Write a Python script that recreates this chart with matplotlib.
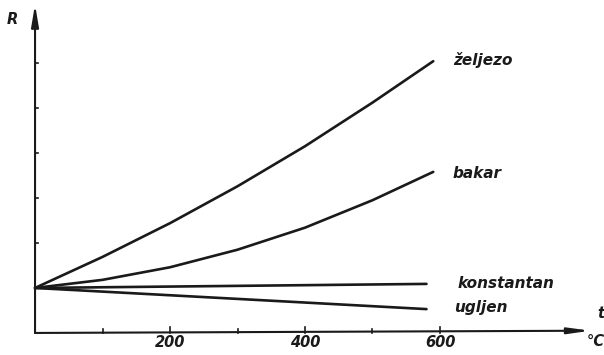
import matplotlib
matplotlib.use("Agg")
import matplotlib.pyplot as plt
import numpy as np

# Data (t in °C, R in relative units)
t_curve = [0, 100, 200, 300, 400, 500, 590]
zeljezo = [1.0, 1.69, 2.44, 3.26, 4.15, 5.12, 6.04]
bakar = [1.0, 1.18, 1.46, 1.85, 2.34, 2.95, 3.58]
t_line = [0, 580]
konstantan = [1.0, 1.09]
ugljen = [1.0, 0.53]

x_ticks = [100, 200, 300, 400, 500, 600]
x_tick_labels = ["200", "400", "600"]
x_label_pos = [200, 400, 600]
y_ticks = [2, 3, 4, 5, 6]

names = ["željezo", "bakar", "konstantan", "ugljen"]

fig = plt.figure(figsize=(6.04, 3.55), dpi=100)
ax = fig.add_axes([0, 0, 1, 1])
ax.set_xlim(-51.9, 843)
ax.set_ylim(-0.49, 7.4)
ax.axis("off")

lw = 1.9
col = "#1a1a1a"
ax.plot(t_curve, zeljezo, color=col, lw=lw, solid_capstyle="round", solid_joinstyle="round")
ax.plot(t_curve, bakar, color=col, lw=lw, solid_capstyle="round", solid_joinstyle="round")
ax.plot(t_line, konstantan, color=col, lw=lw, solid_capstyle="round")
ax.plot(t_line, ugljen, color=col, lw=lw, solid_capstyle="round")

# axes with arrows
ax.annotate("", xy=(0, 7.3), xytext=(0, 0),
            arrowprops=dict(arrowstyle="-|>,head_length=1.3,head_width=0.22",
                            color=col, lw=1.5, shrinkA=0, shrinkB=0))
ax.annotate("", xy=(823, 0.05), xytext=(0, 0),
            arrowprops=dict(arrowstyle="-|>,head_length=1.3,head_width=0.18",
                            color=col, lw=1.5, shrinkA=0, shrinkB=0))

# ticks
for xt in x_ticks:
    h = 0.13 if xt % 200 == 0 else 0.08
    ax.plot([xt, xt], [0, h], color=col, lw=1.2)
for yt in y_ticks:
    ax.plot([0, 5], [yt, yt], color=col, lw=1.2)

font = dict(family="DejaVu Sans", style="italic", weight="bold", fontsize=10.5, color=col)
for xp, lab in zip(x_label_pos, x_tick_labels):
    ax.text(xp, -0.22, lab, ha="center", va="center", **font)

ax.text(-33, 6.96, "R", ha="center", va="center", **font)
ax.text(838, 0.44, "t", ha="center", va="center", **font)
ax.text(818, -0.2, "°C", ha="left", va="center", **font)

font2 = dict(font, fontsize=11)
ax.text(620, 6.07, names[0], ha="left", va="center", **font2)
ax.text(618, 3.55, names[1], ha="left", va="center", **font2)
ax.text(626, 1.11, names[2], ha="left", va="center", **font2)
ax.text(621, 0.57, names[3], ha="left", va="center", **font2)

fig.savefig("out.png", dpi=100)
